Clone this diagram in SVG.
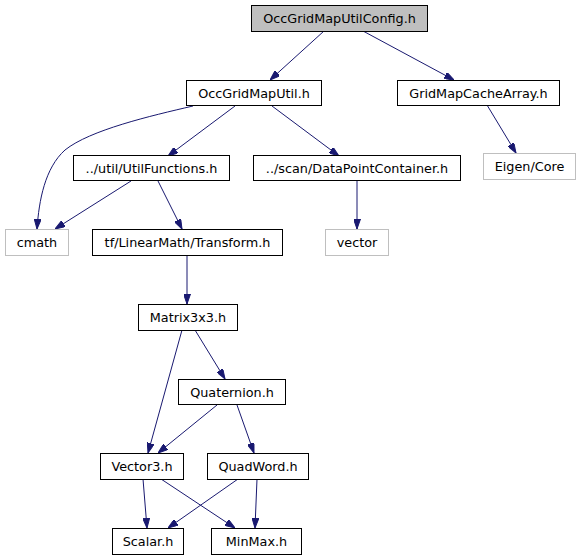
<svg xmlns="http://www.w3.org/2000/svg" width="581" height="560" viewBox="0 0 581 560">
<style>
.n rect{fill:#ffffff;stroke:#000000;stroke-width:1}
.n.root rect{fill:#bfbfbf}
.n.ext rect{stroke:#bfbfbf}
text{font-family:"DejaVu Sans",sans-serif;font-size:12.8px;text-anchor:middle;fill:#000000}
.e path{fill:none;stroke:#191970;stroke-width:1;marker-end:url(#a)}
</style>
<defs>
<marker id="a" viewBox="0 0 10 7" refX="10" refY="3.5" markerWidth="10" markerHeight="7" orient="auto" markerUnits="userSpaceOnUse">
<path d="M0,0 L10,3.5 L0,7 z" fill="#191970" stroke="#191970"/>
</marker>
</defs>
<rect width="581" height="560" fill="#ffffff"/>
<g id="edges" class="e">
<path d="M324,31 L270,80"/>
<path d="M363,31 L454,80"/>
<path d="M487,105 L516,153"/>
<path d="M193,106 C150,116 90,130 65,150 C45,168 39,200 37,229"/>
<path d="M235,106 L168,156"/>
<path d="M272,106 L339,156"/>
<path d="M131,181 L55,229"/>
<path d="M158,181 L182,229"/>
<path d="M357,181 L357,229"/>
<path d="M187,255 L187,304"/>
<path d="M182,330 L148,453"/>
<path d="M195,330 L225,379"/>
<path d="M217,405 L158,453"/>
<path d="M237,405 L254,453"/>
<path d="M143,479 L147,528"/>
<path d="M161,479 L235,528"/>
<path d="M238,479 L168,528"/>
<path d="M257,479 L255,528"/>
</g>
<g id="n0" class="n root"><rect x="251.5" y="5.5" width="176" height="26"/><text x="339.5" y="23">OccGridMapUtilConfig.h</text></g>
<g id="n1" class="n"><rect x="186.5" y="80.5" width="135" height="25"/><text x="254" y="97.5">OccGridMapUtil.h</text></g>
<g id="n2" class="n"><rect x="397.5" y="80.5" width="162" height="25"/><text x="478.5" y="97.5">GridMapCacheArray.h</text></g>
<g id="n3" class="n ext"><rect x="483.5" y="153.5" width="92" height="26"/><text x="529.5" y="171">Eigen/Core</text></g>
<g id="n4" class="n"><rect x="73.5" y="155.5" width="156" height="25"/><text x="151.5" y="172.5">../util/UtilFunctions.h</text></g>
<g id="n5" class="n"><rect x="253.5" y="155.5" width="207" height="25"/><text x="357" y="172.5">../scan/DataPointContainer.h</text></g>
<g id="n6" class="n ext"><rect x="5.5" y="229.5" width="63" height="26"/><text x="37" y="247">cmath</text></g>
<g id="n7" class="n"><rect x="92.5" y="229.5" width="190" height="26"/><text x="187.5" y="247">tf/LinearMath/Transform.h</text></g>
<g id="n8" class="n ext"><rect x="325.5" y="229.5" width="63" height="26"/><text x="357" y="247">vector</text></g>
<g id="n9" class="n"><rect x="138.5" y="304.5" width="99" height="26"/><text x="188" y="322">Matrix3x3.h</text></g>
<g id="n10" class="n"><rect x="178.5" y="379.5" width="107" height="25"/><text x="232" y="396.5">Quaternion.h</text></g>
<g id="n11" class="n"><rect x="100.5" y="453.5" width="83" height="26"/><text x="142" y="471">Vector3.h</text></g>
<g id="n12" class="n"><rect x="207.5" y="453.5" width="101" height="26"/><text x="258" y="471">QuadWord.h</text></g>
<g id="n13" class="n"><rect x="112.5" y="528.5" width="71" height="26"/><text x="148" y="546">Scalar.h</text></g>
<g id="n14" class="n"><rect x="211.5" y="528.5" width="90" height="26"/><text x="256.5" y="546">MinMax.h</text></g>
</svg>
